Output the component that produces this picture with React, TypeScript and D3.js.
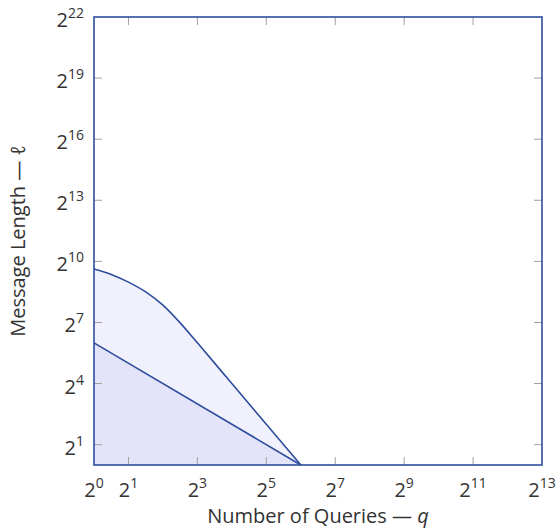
import React from 'react'
import * as d3 from 'd3'

// exponents (base 2)
const upperQExp = [0, 0.5, 1, 1.5, 2, 2.5, 3, 4, 5, 6]
const upperLenExp = [9.63, 9.36, 8.98, 8.5, 7.85, 6.98, 6.0, 4.0, 2.0, 0]
const lowerQExp = [0, 6]
const lowerLenExp = [6, 0]
const xTickExp = [0, 1, 3, 5, 7, 9, 11, 13]
const yTickExp = [1, 4, 7, 10, 13, 16, 19, 22]

const W = 560, H = 529
const margin = { top: 17, right: 18, bottom: 64, left: 94 }
const lineColor = '#2d4d9d'
const font = '"Open Sans", sans-serif'
const textColor = '#333'

const Pow = ({ e, x, y, anchor }: { e: number; x: number; y: number; anchor: string }) => (
  <text x={x} y={y} textAnchor={anchor} fontFamily={font} fontSize={20} fill={textColor}>
    2<tspan fontSize={14} dy={-9}>{e}</tspan>
  </text>
)

export default function App() {
  const width = W - margin.left - margin.right
  const height = H - margin.top - margin.bottom

  const x = d3.scaleLog().base(2).domain([1, 2 ** 13]).range([0, width])
  const y = d3.scaleLog().base(2).domain([1, 2 ** 22]).range([height, 0])

  const upper = upperQExp.map((e, i) => [2 ** e, 2 ** upperLenExp[i]] as [number, number])
  const lower = lowerQExp.map((e, i) => [2 ** e, 2 ** lowerLenExp[i]] as [number, number])

  const area = d3.area<[number, number]>()
    .x(d => x(d[0]))
    .y0(height)
    .y1(d => y(d[1]))
    .curve(d3.curveMonotoneX)
  const line = d3.line<[number, number]>()
    .x(d => x(d[0]))
    .y(d => y(d[1]))
    .curve(d3.curveMonotoneX)

  const tick = 8
  return (
    <svg width={W} height={H} style={{ position: 'absolute', left: 0, top: 0 }}>
      <g transform={`translate(${margin.left},${margin.top})`}>
        <path d={area(upper) || ''} fill="#f1f1fd" />
        <path d={area(lower) || ''} fill="#e3e3fa" />
        <path d={line(upper) || ''} fill="none" stroke={lineColor} strokeWidth={1.6} />
        <path d={line(lower) || ''} fill="none" stroke={lineColor} strokeWidth={1.6} />

        {/* ticks, inside on all four sides */}
        {xTickExp.filter(e => e > 0 && e < 13).map(e => (
          <g key={'xt' + e} stroke="#a0a0a0" strokeWidth={1}>
            <line x1={x(2 ** e)} x2={x(2 ** e)} y1={height} y2={height - tick} />
            <line x1={x(2 ** e)} x2={x(2 ** e)} y1={0} y2={tick} />
          </g>
        ))}
        {yTickExp.filter(e => e < 22).map(e => (
          <g key={'yt' + e} stroke="#a0a0a0" strokeWidth={1}>
            <line x1={0} x2={tick} y1={y(2 ** e)} y2={y(2 ** e)} />
            <line x1={width} x2={width - tick} y1={y(2 ** e)} y2={y(2 ** e)} />
          </g>
        ))}

        <rect x={0} y={0} width={width} height={height} fill="none" stroke={lineColor} strokeWidth={1.6} />

        {xTickExp.map(e => (
          <Pow key={'xl' + e} e={e} x={x(2 ** e)} y={height + 32} anchor="middle" />
        ))}
        {yTickExp.map(e => (
          <Pow key={'yl' + e} e={e} x={-10} y={y(2 ** e) + 10} anchor="end" />
        ))}

        <text x={width / 2} y={height + 58} textAnchor="middle" fontFamily={font} fontSize={20} fill={textColor}>
          Number of Queries — <tspan fontStyle="italic">q</tspan>
        </text>
        <text transform={`translate(${-69},${height / 2}) rotate(-90)`} textAnchor="middle"
          fontFamily={font} fontSize={20} fill={textColor}>
          Message Length — <tspan fontStyle="italic">ℓ</tspan>
        </text>
      </g>
    </svg>
  )
}
